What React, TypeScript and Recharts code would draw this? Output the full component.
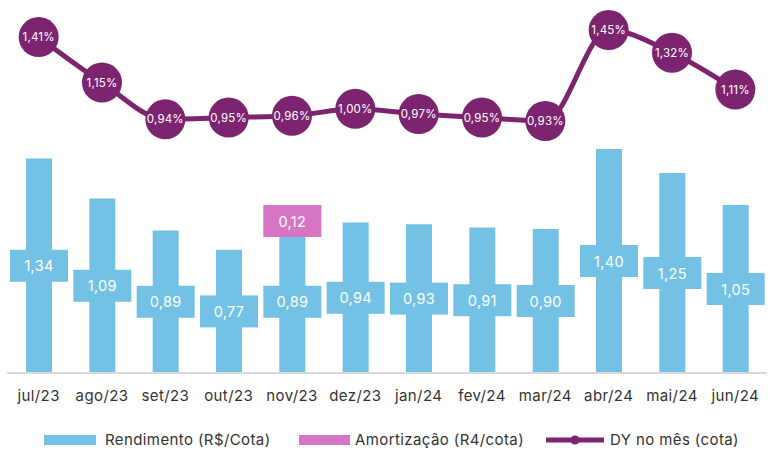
import React from "react";
import {
  ComposedChart,
  Bar,
  Line,
  XAxis,
  YAxis,
  Legend,
  LabelList,
} from "recharts";

const months = [
  "jul/23", "ago/23", "set/23", "out/23", "nov/23", "dez/23",
  "jan/24", "fev/24", "mar/24", "abr/24", "mai/24", "jun/24",
];
const rendimento = [1.34, 1.09, 0.89, 0.77, 0.89, 0.94, 0.93, 0.91, 0.9, 1.4, 1.25, 1.05];
const amortizacao = [null, null, null, null, 0.12, null, null, null, null, null, null, null];
const dy = [1.41, 1.15, 0.94, 0.95, 0.96, 1.0, 0.97, 0.95, 0.93, 1.45, 1.32, 1.11];

const BLUE = "#73C2E6";
const PINK = "#D575C4";
const PURPLE = "#7C246F";
const FONT = "Inter, 'Noto Sans', sans-serif";

const data = months.map((m, i) => ({
  month: m,
  rend: rendimento[i],
  amort: amortizacao[i],
  dy: dy[i],
}));

const fmt = (v: number, d = 2) => v.toFixed(d).replace(".", ",");

const boxLabel = (fill: string) => (props: any) => {
  const { x, y, width, height, value } = props;
  if (value == null || value === 0) return null;
  const cx = x + width / 2;
  const cy = y + height / 2;
  return (
    <g>
      <rect x={cx - 29} y={cy - 16} width={58} height={32} fill={fill} />
      <text
        x={cx}
        y={cy}
        textAnchor="middle"
        dominantBaseline="central"
        fill="#fff"
        fontSize={14.5}
        letterSpacing={0.3}
        fontFamily={FONT}
      >
        {fmt(Number(value))}
      </text>
    </g>
  );
};

const dyLabel = (props: any) => {
  const { x, y, value } = props;
  return (
    <text
      x={x}
      y={y}
      textAnchor="middle"
      dominantBaseline="central"
      fill="#fff"
      fontSize={11.5}
      letterSpacing={0.2}
      fontFamily={FONT}
    >
      {fmt(Number(value))}%
    </text>
  );
};

// legend wrapper starts at the left margin (7px)
const legendContent = () => (
  <div
    style={{
      position: "relative",
      height: 20,
      fontFamily: FONT,
      fontSize: 15,
      letterSpacing: 0.4,
      color: "#333",
      whiteSpace: "nowrap",
    }}
  >
    <div style={{ position: "absolute", left: 37, top: 5, width: 52, height: 10, background: BLUE }} />
    <span style={{ position: "absolute", left: 98, top: 0 }}>Rendimento (R$/Cota)</span>
    <div style={{ position: "absolute", left: 292, top: 5, width: 51, height: 10, background: PINK }} />
    <span style={{ position: "absolute", left: 348, top: 0 }}>Amortização (R4/cota)</span>
    <svg style={{ position: "absolute", left: 539, top: 4 }} width={58} height={12}>
      <line x1={1} y1={6} x2={57} y2={6} stroke={PURPLE} strokeWidth={5} strokeLinecap="round" />
      <circle cx={29} cy={6} r={4.5} fill={PURPLE} />
    </svg>
    <span style={{ position: "absolute", left: 603, top: 0 }}>DY no mês (cota)</span>
  </div>
);

export default function App() {
  return (
    <div style={{ position: "absolute", left: 0, top: 0, background: "#fff" }}>
      <ComposedChart
        width={769}
        height={450}
        data={data}
        margin={{ top: 5, right: 2, left: 7, bottom: 0 }}
      >
        <XAxis
          dataKey="month"
          height={57}
          tickLine={false}
          axisLine={{ stroke: "#d9d9d9", strokeWidth: 2 }}
          tickMargin={11}
          tick={{ fontSize: 15, fill: "#333", fontFamily: FONT, letterSpacing: 0.4 }}
          interval={0}
        />
        <YAxis yAxisId="bar" hide domain={[0, 2.3]} />
        <YAxis yAxisId="dy" hide orientation="right" domain={[-0.51, 1.593]} />
        <Legend verticalAlign="bottom" height={20} content={legendContent} />
        <Bar
          yAxisId="bar"
          dataKey="rend"
          stackId="a"
          fill={BLUE}
          barSize={26}
          isAnimationActive={false}
        >
          <LabelList dataKey="rend" content={boxLabel(BLUE)} />
        </Bar>
        <Bar
          yAxisId="bar"
          dataKey="amort"
          stackId="a"
          fill={PINK}
          barSize={26}
          isAnimationActive={false}
        >
          <LabelList dataKey="amort" content={boxLabel(PINK)} />
        </Bar>
        <Line
          yAxisId="dy"
          dataKey="dy"
          type="monotone"
          stroke={PURPLE}
          strokeWidth={5}
          dot={{ r: 20, fill: PURPLE, stroke: PURPLE, strokeWidth: 0 }}
          activeDot={false}
          isAnimationActive={false}
        >
          <LabelList dataKey="dy" content={dyLabel} />
        </Line>
      </ComposedChart>
    </div>
  );
}
